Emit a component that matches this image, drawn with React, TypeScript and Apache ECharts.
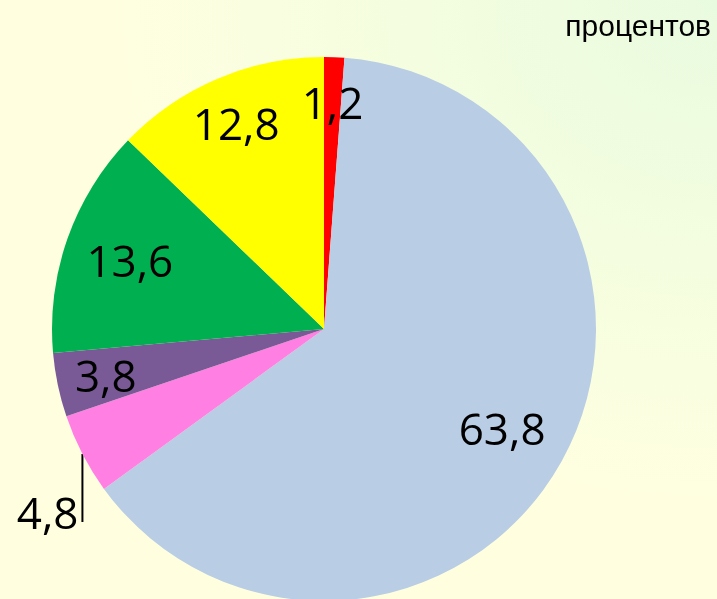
import React, { useEffect, useRef } from "react";
import * as echarts from "echarts";

const sliceNames = ["s1", "s2", "s3", "s4", "s5", "s6"];
const sliceValues = [1.2, 63.8, 4.8, 3.8, 13.6, 12.8];
const sliceColors = ["#FF0000", "#B9CDE5", "#FF7FE3", "#795A96", "#00B050", "#FFFF00"];
const titleText = "процентов";

// label radius as a fraction of the pie radius (styling)
const labelRadiusRatio = [0.835, 0.75, 0, 0.82, 0.757, 0.825];

const CX = 324;
const CY = 329;
const R = 272;

export default function App() {
  const ref = useRef<HTMLDivElement>(null);
  useEffect(() => {
    if (!ref.current) return;
    const chart = echarts.init(ref.current, null, { renderer: "svg" });
    const total = sliceValues.reduce((a, b) => a + b, 0);
    const midAngle = (i: number) => {
      let before = 0;
      for (let k = 0; k < i; k++) before += sliceValues[k];
      const frac = (before + sliceValues[i] / 2) / total;
      return frac * Math.PI * 2; // clockwise from top
    };
    const fmt = (v: number) => v.toFixed(1).replace(".", ",");
    chart.setOption({
      animation: false,
      backgroundColor: {
        type: "radial",
        x: 1,
        y: 0,
        r: 0.85,
        colorStops: [
          { offset: 0, color: "#E9FBDF" },
          { offset: 1, color: "#FFFFE0" },
        ],
      },
      title: {
        text: titleText,
        right: 1,
        top: 5,
        textStyle: {
          fontFamily: "Liberation Sans, Arial, sans-serif",
          fontSize: 30,
          fontWeight: "normal",
          color: "#000",
        },
      },
      series: [
        {
          type: "pie",
          center: [CX, CY],
          radius: [0, R],
          startAngle: 90,
          clockwise: true,
          avoidLabelOverlap: false,
          emphasis: { disabled: true },
          itemStyle: { borderWidth: 0 },
          data: sliceValues.map((v, i) => ({
            name: sliceNames[i],
            value: v,
            itemStyle: { color: sliceColors[i] },
            label:
              i === 2
                ? { position: "outside", show: true }
                : { position: "inside", show: true },
            labelLine: i === 2 ? { show: true, lineStyle: { color: "#000", width: 2 } } : { show: false },
          })),
          label: {
            show: true,
            formatter: (p: any) => fmt(p.value),
            fontFamily: "Open Sans, Noto Sans, sans-serif",
            fontSize: 44,
            color: "#000",
          },
          labelLayout: (params: any) => {
            const i = params.dataIndex;
            const a = midAngle(i);
            if (i === 2) {
              const ex = CX + R * Math.sin(a);
              const ey = CY - R * Math.cos(a);
              const by = ey + 68;
              return {
                x: ex - 4,
                y: by - 10,
                align: "right",
                verticalAlign: "middle",
                labelLinePoints: [
                  [ex, ey],
                  [ex, by],
                  [ex, by],
                ],
              };
            }
            const rr = R * labelRadiusRatio[i];
            return {
              x: CX + rr * Math.sin(a),
              y: CY - rr * Math.cos(a),
              align: "center",
              verticalAlign: "middle",
            };
          },
        },
      ],
    });
    return () => chart.dispose();
  }, []);
  return (
    <div
      ref={ref}
      style={{ position: "fixed", left: 0, top: 0, width: 717, height: 599 }}
    />
  );
}
